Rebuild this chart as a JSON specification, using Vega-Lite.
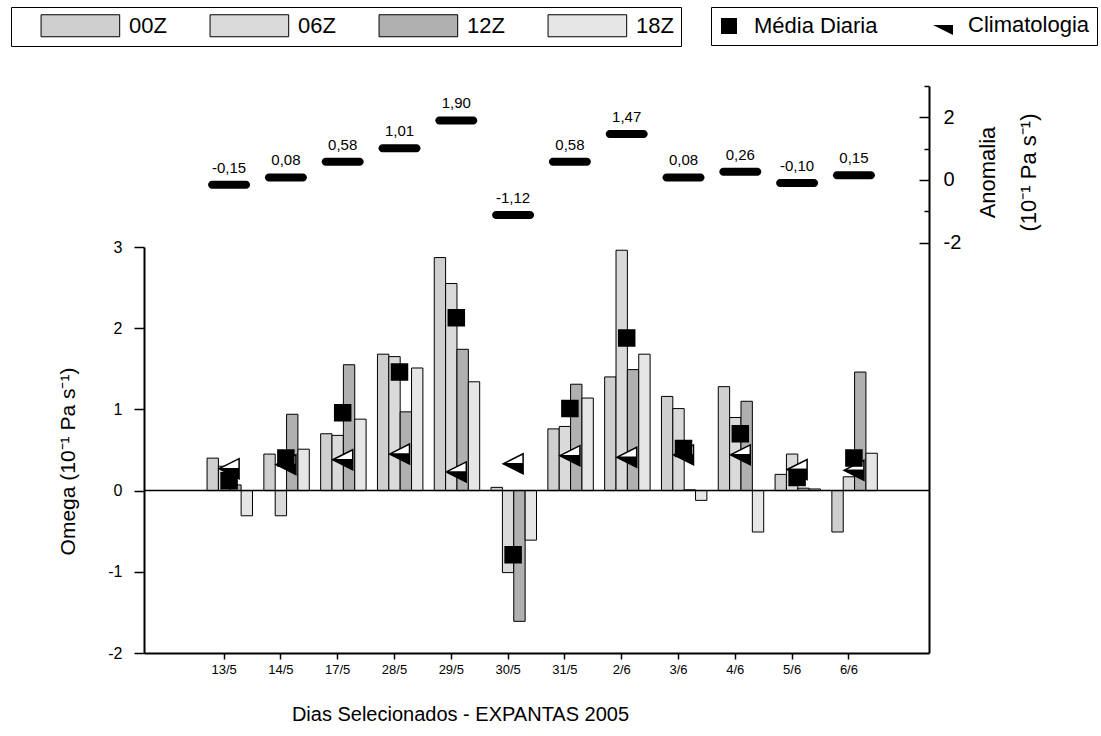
{
  "$schema": "https://vega.github.io/schema/vega-lite/v6.json",
  "width": 785,
  "height": 567,
  "padding": {"left": 10, "top": 6, "right": 0, "bottom": 0},
  "background": "white",
  "config": {
    "font": "Liberation Sans",
    "view": {"stroke": null},
    "locale": {"number": {"decimal": ",", "thousands": ".", "grouping": [3], "currency": ["", ""], "minus": "-"}},
    "axis": {"grid": false, "domainColor": "black", "tickColor": "black", "labelColor": "black", "titleColor": "black", "titleFontWeight": "normal", "domainWidth": 2, "tickWidth": 1.5, "labelFont": "Liberation Sans", "titleFont": "Liberation Sans"},
    "legend": {"labelFont": "Liberation Sans", "labelColor": "black"}
  },
  "datasets": {
    "barras": [
      {"dia": "13/5", "serie": "00Z", "omega": 0.40}, {"dia": "13/5", "serie": "06Z", "omega": 0.30}, {"dia": "13/5", "serie": "12Z", "omega": 0.07}, {"dia": "13/5", "serie": "18Z", "omega": -0.31},
      {"dia": "14/5", "serie": "00Z", "omega": 0.45}, {"dia": "14/5", "serie": "06Z", "omega": -0.31}, {"dia": "14/5", "serie": "12Z", "omega": 0.94}, {"dia": "14/5", "serie": "18Z", "omega": 0.51},
      {"dia": "17/5", "serie": "00Z", "omega": 0.70}, {"dia": "17/5", "serie": "06Z", "omega": 0.68}, {"dia": "17/5", "serie": "12Z", "omega": 1.55}, {"dia": "17/5", "serie": "18Z", "omega": 0.88},
      {"dia": "28/5", "serie": "00Z", "omega": 1.68}, {"dia": "28/5", "serie": "06Z", "omega": 1.65}, {"dia": "28/5", "serie": "12Z", "omega": 0.97}, {"dia": "28/5", "serie": "18Z", "omega": 1.51},
      {"dia": "29/5", "serie": "00Z", "omega": 2.87}, {"dia": "29/5", "serie": "06Z", "omega": 2.55}, {"dia": "29/5", "serie": "12Z", "omega": 1.74}, {"dia": "29/5", "serie": "18Z", "omega": 1.34},
      {"dia": "30/5", "serie": "00Z", "omega": 0.04}, {"dia": "30/5", "serie": "06Z", "omega": -1.01}, {"dia": "30/5", "serie": "12Z", "omega": -1.61}, {"dia": "30/5", "serie": "18Z", "omega": -0.61},
      {"dia": "31/5", "serie": "00Z", "omega": 0.76}, {"dia": "31/5", "serie": "06Z", "omega": 0.79}, {"dia": "31/5", "serie": "12Z", "omega": 1.31}, {"dia": "31/5", "serie": "18Z", "omega": 1.14},
      {"dia": "2/6", "serie": "00Z", "omega": 1.40}, {"dia": "2/6", "serie": "06Z", "omega": 2.96}, {"dia": "2/6", "serie": "12Z", "omega": 1.49}, {"dia": "2/6", "serie": "18Z", "omega": 1.68},
      {"dia": "3/6", "serie": "00Z", "omega": 1.16}, {"dia": "3/6", "serie": "06Z", "omega": 1.01}, {"dia": "3/6", "serie": "12Z", "omega": 0.01}, {"dia": "3/6", "serie": "18Z", "omega": -0.12},
      {"dia": "4/6", "serie": "00Z", "omega": 1.28}, {"dia": "4/6", "serie": "06Z", "omega": 0.90}, {"dia": "4/6", "serie": "12Z", "omega": 1.10}, {"dia": "4/6", "serie": "18Z", "omega": -0.51},
      {"dia": "5/6", "serie": "00Z", "omega": 0.20}, {"dia": "5/6", "serie": "06Z", "omega": 0.45}, {"dia": "5/6", "serie": "12Z", "omega": 0.03}, {"dia": "5/6", "serie": "18Z", "omega": 0.02},
      {"dia": "6/6", "serie": "00Z", "omega": -0.51}, {"dia": "6/6", "serie": "06Z", "omega": 0.17}, {"dia": "6/6", "serie": "12Z", "omega": 1.46}, {"dia": "6/6", "serie": "18Z", "omega": 0.46}
    ],
    "pts": [
      {"dia": "13/5", "serie": "Climatologia", "v": 0.27}, {"dia": "14/5", "serie": "Climatologia", "v": 0.32}, {"dia": "17/5", "serie": "Climatologia", "v": 0.38}, {"dia": "28/5", "serie": "Climatologia", "v": 0.45},
      {"dia": "29/5", "serie": "Climatologia", "v": 0.23}, {"dia": "30/5", "serie": "Climatologia", "v": 0.33}, {"dia": "31/5", "serie": "Climatologia", "v": 0.43}, {"dia": "2/6", "serie": "Climatologia", "v": 0.41},
      {"dia": "3/6", "serie": "Climatologia", "v": 0.44}, {"dia": "4/6", "serie": "Climatologia", "v": 0.44}, {"dia": "5/6", "serie": "Climatologia", "v": 0.26}, {"dia": "6/6", "serie": "Climatologia", "v": 0.25},
      {"dia": "13/5", "serie": "Média Diaria", "v": 0.12}, {"dia": "14/5", "serie": "Média Diaria", "v": 0.40}, {"dia": "17/5", "serie": "Média Diaria", "v": 0.96}, {"dia": "28/5", "serie": "Média Diaria", "v": 1.46},
      {"dia": "29/5", "serie": "Média Diaria", "v": 2.13}, {"dia": "30/5", "serie": "Média Diaria", "v": -0.79}, {"dia": "31/5", "serie": "Média Diaria", "v": 1.01}, {"dia": "2/6", "serie": "Média Diaria", "v": 1.88},
      {"dia": "3/6", "serie": "Média Diaria", "v": 0.52}, {"dia": "4/6", "serie": "Média Diaria", "v": 0.70}, {"dia": "5/6", "serie": "Média Diaria", "v": 0.16}, {"dia": "6/6", "serie": "Média Diaria", "v": 0.40}
    ],
    "anom": [
      {"dia": "13/5", "anom": -0.15}, {"dia": "14/5", "anom": 0.08}, {"dia": "17/5", "anom": 0.58}, {"dia": "28/5", "anom": 1.01},
      {"dia": "29/5", "anom": 1.90}, {"dia": "30/5", "anom": -1.12}, {"dia": "31/5", "anom": 0.58}, {"dia": "2/6", "anom": 1.47},
      {"dia": "3/6", "anom": 0.08}, {"dia": "4/6", "anom": 0.26}, {"dia": "5/6", "anom": -0.10}, {"dia": "6/6", "anom": 0.15}
    ]
  },
  "layer": [
    {
      "layer": [
        {
          "data": {"name": "barras"},
          "mark": {"type": "bar", "stroke": "black", "strokeWidth": 1},
          "encoding": {
            "x": {
              "field": "dia", "type": "nominal",
              "scale": {"domain": ["13/5","14/5","17/5","28/5","29/5","30/5","31/5","2/6","3/6","4/6","5/6","6/6"], "paddingInner": 0, "paddingOuter": 0.91},
              "axis": {"title": "Dias Selecionados  - EXPANTAS 2005", "titleFontSize": 20, "titleX": 316, "titleY": 67, "titleAlign": "center", "titleBaseline": "alphabetic", "labelAngle": 0, "labelFontSize": 13, "labelPadding": 4, "tickSize": 6}
            },
            "xOffset": {"field": "serie", "type": "nominal", "scale": {"domain": ["·", "00Z", "06Z", "12Z", "18Z"], "paddingInner": 0, "paddingOuter": 0}},
            "y": {
              "field": "omega", "type": "quantitative", "stack": null,
              "scale": {"domain": [-2, 3], "range": [567, 161], "nice": false, "zero": false},
              "axis": {"orient": "left", "values": [-2, -1.5, -1, -0.5, 0, 0.5, 1, 1.5, 2, 2.5, 3], "format": "d", "labelExpr": "datum.value % 1 === 0 ? datum.label : ''", "tickSize": {"condition": {"test": "datum.value % 1 === 0", "value": 10}, "value": 5}, "labelPadding": 12, "labelFontSize": 16, "title": "Omega  (10⁻¹ Pa s⁻¹)", "titleFontSize": 21, "titleAngle": 270, "titleX": -76, "titleY": 375, "titleAlign": "center", "titleBaseline": "middle"}
            },
            "fill": {
              "field": "serie", "type": "nominal",
              "scale": {"domain": ["00Z", "06Z", "12Z", "18Z"], "range": ["#cfcfcf", "#dadada", "#b0b0b0", "#e6e6e6"]},
              "legend": {"orient": "none", "legendX": -133, "legendY": -79, "direction": "horizontal", "columns": 4, "title": null, "strokeColor": "black", "padding": 7, "symbolType": "M1.05,-1H8.2V1H1.05Z", "symbolSize": 484, "symbolStrokeColor": "black", "symbolStrokeWidth": 1, "symbolOpacity": 1, "labelFontSize": 22, "labelOffset": 88, "columnPadding": 20}
            }
          }
        },
        {
          "data": {"values": [{}]},
          "mark": {"type": "rule", "color": "black", "strokeWidth": 1.5},
          "encoding": {"y": {"datum": 0}}
        },
        {
          "data": {"name": "pts"},
          "transform": [{"filter": "datum.serie === 'Climatologia'"}],
          "mark": {"type": "point", "filled": true, "fill": "white", "strokeWidth": 0, "shape": "M-1.25,0L1.25,-1.25L1.25,1.25Z", "size": 256, "xOffset": 5, "opacity": 1},
          "encoding": {
            "x": {"field": "dia", "type": "nominal"},
            "y": {"field": "v", "type": "quantitative"}
          }
        },
        {
          "data": {"name": "pts"},
          "mark": {"type": "point", "filled": true, "fill": "black", "stroke": "black", "strokeWidth": 1.5, "size": 256, "xOffset": 5, "opacity": 1},
          "encoding": {
            "x": {"field": "dia", "type": "nominal"},
            "y": {"field": "v", "type": "quantitative"},
            "shape": {
              "field": "serie", "type": "nominal",
              "scale": {"domain": ["Média Diaria", "Climatologia"], "range": ["square", "M-1.25,0L1.25,-1.25L1.25,1.25ZM-1.25,0L1.25,0L1.25,-1.25Z"]},
              "legend": {"orient": "none", "legendX": 567, "legendY": -79, "direction": "horizontal", "columns": 2, "title": null, "strokeColor": "black", "padding": 7, "symbolSize": 256, "symbolFillColor": "black", "symbolStrokeColor": "black", "symbolStrokeWidth": 1.5, "symbolOpacity": 1, "labelFontSize": 22, "labelOffset": 14, "columnPadding": 52,
                "encode": {"symbols": {"update": {"stroke": {"value": "black"}, "strokeWidth": {"value": 1.5}, "fill": {"value": "black"}}}}}
            }
          }
        }
      ]
    },
    {
      "data": {"name": "anom"},
      "layer": [
        {
          "mark": {"type": "tick", "color": "black", "thickness": 8, "size": 42, "cornerRadius": 4, "xOffset": 5, "opacity": 1},
          "encoding": {
            "x": {"field": "dia", "type": "nominal"},
            "y": {
              "field": "anom", "type": "quantitative",
              "scale": {"domain": [-15.1, 3], "nice": false, "zero": false},
              "axis": {"orient": "right", "values": [-2, -1, 0, 1, 2, 3], "format": "d", "labelExpr": "datum.value % 2 === 0 ? datum.label : ''", "tickSize": {"condition": {"test": "datum.value % 2 === 0", "value": -10}, "value": -5}, "labelPadding": 24, "labelFontSize": 20, "title": ["Anomalia", "(10⁻¹ Pa s⁻¹)"], "titleFontSize": 22, "titleLineHeight": 41, "titleAngle": 270, "titleX": 58, "titleY": 86, "titleAlign": "center", "titleBaseline": "middle"}
            }
          }
        },
        {
          "mark": {"type": "text", "fontSize": 15, "baseline": "alphabetic", "dy": -12, "xOffset": 5, "color": "black"},
          "encoding": {
            "x": {"field": "dia", "type": "nominal"},
            "y": {"field": "anom", "type": "quantitative"},
            "text": {"field": "anom", "type": "quantitative", "format": ".2f"}
          }
        }
      ]
    }
  ],
  "resolve": {"scale": {"y": "independent"}, "axis": {"y": "independent"}}
}
